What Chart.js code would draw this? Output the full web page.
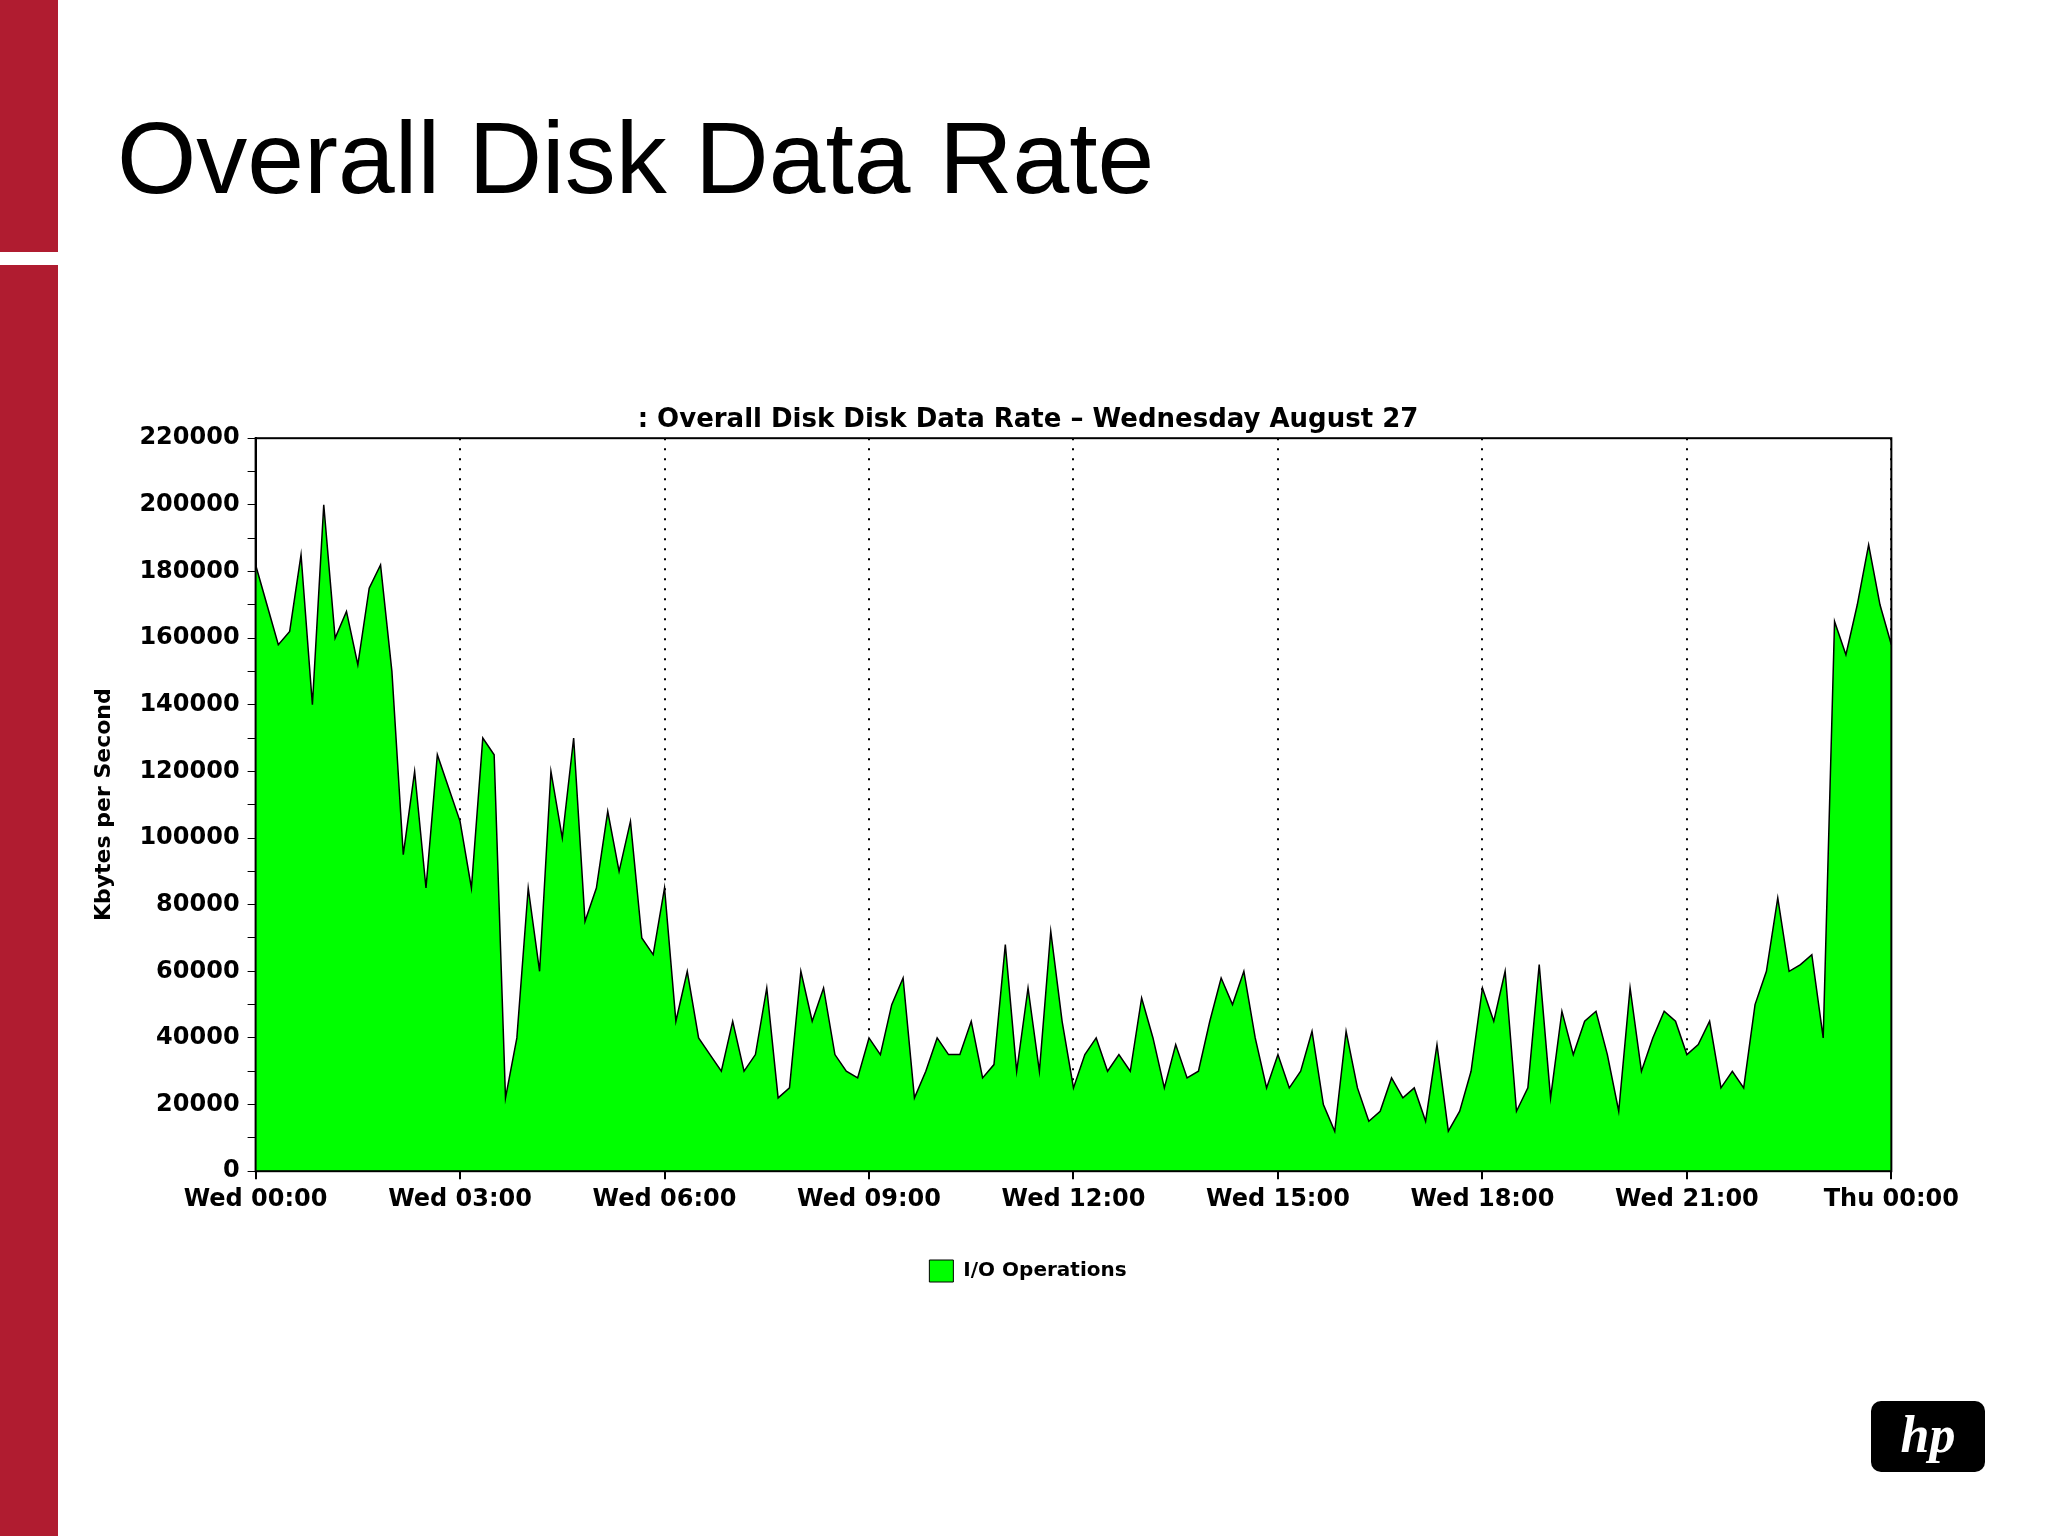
<!DOCTYPE html>
<html><head><meta charset="utf-8">
<script src="https://cdn.jsdelivr.net/npm/chart.js@4/dist/chart.umd.min.js"></script>
<style>
html,body{margin:0;padding:0;background:#fff;width:2048px;height:1536px;overflow:hidden;position:relative;font-family:"Liberation Sans",Arial,sans-serif}
#bar1{position:absolute;left:0;top:0;width:58px;height:252px;background:#B01C30}
#bar2{position:absolute;left:0;top:265px;width:58px;height:1271px;background:#B01C30}
#title{position:absolute;left:117px;top:100px;font-size:102px;color:#000;white-space:nowrap}
#wrap{position:absolute;left:91px;top:405px;width:1874px;height:887px}
#hp{position:absolute;left:1871px;top:1401px;width:114px;height:71px;background:#000;border-radius:10px;color:#fff;font:italic bold 52px "Liberation Serif",serif;text-align:center;line-height:68px}
</style></head><body>
<div id="bar1"></div><div id="bar2"></div>
<div id="title">Overall Disk Data Rate</div>
<div id="wrap"><canvas id="c"></canvas></div>
<div id="hp">hp</div>
<script>
// values in Kbytes/s, one every 10 minutes from Wed 00:00 to Thu 00:00
const ioOps = [
182000,170000,158000,162000,185000,140000,
200000,160000,168000,152000,175000,182000,
150000,95000,120000,85000,125000,115000,
105000,85000,130000,125000,22000,40000,
85000,60000,120000,100000,130000,75000,
85000,108000,90000,105000,70000,65000,
85000,45000,60000,40000,35000,30000,
45000,30000,35000,55000,22000,25000,
60000,45000,55000,35000,30000,28000,
40000,35000,50000,58000,22000,30000,
40000,35000,35000,45000,28000,32000,
68000,30000,55000,30000,72000,45000,
25000,35000,40000,30000,35000,30000,
52000,40000,25000,38000,28000,30000,
45000,58000,50000,60000,40000,25000,
35000,25000,30000,42000,20000,12000,
42000,25000,15000,18000,28000,22000,
25000,15000,38000,12000,18000,30000,
55000,45000,60000,18000,25000,62000,
22000,48000,35000,45000,48000,35000,
18000,55000,30000,40000,48000,45000,
35000,38000,45000,25000,30000,25000,
50000,60000,82000,60000,62000,65000,
40000,165000,155000,170000,188000,170000,
158000
];
const xTickLabels = {0:'Wed 00:00',3:'Wed 03:00',6:'Wed 06:00',9:'Wed 09:00',12:'Wed 12:00',15:'Wed 15:00',18:'Wed 18:00',21:'Wed 21:00',24:'Thu 00:00'};
const yTickLabels = [0,20000,40000,60000,80000,100000,120000,140000,160000,180000,200000,220000];
const seriesName = 'I/O Operations';
const chartTitle = ': Overall Disk Disk Data Rate \u2013 Wednesday August 27';

const pts = ioOps.map((v,i)=>({x:i/6,y:v}));
const tickFont = {family:'"DejaVu Sans"',size:24,weight:'bold'};
new Chart(document.getElementById('c'),{
  type:'line',
  data:{datasets:[{label:seriesName,data:pts,borderColor:'#000',borderWidth:1.5,backgroundColor:'#00FF00',fill:'origin',pointRadius:0,tension:0}]},
  options:{
    responsive:true,maintainAspectRatio:false,animation:false,
    layout:{padding:{right:0}},
    plugins:{
      title:{display:true,text:chartTitle,color:'#000',font:{family:'"DejaVu Sans"',size:26,weight:'bold'},padding:{top:0,bottom:2}},
      legend:{position:'bottom',labels:{color:'#000',font:{family:'"DejaVu Sans"',size:20,weight:'bold'},boxWidth:24,boxHeight:22,padding:40,generateLabels:(ch)=>[{text:seriesName,fillStyle:'#00FF00',strokeStyle:'#000',lineWidth:1}]}},
      tooltip:{enabled:false}
    },
    scales:{
      x:{type:'linear',min:0,max:24,
        ticks:{stepSize:3,autoSkip:false,maxRotation:0,padding:6,color:'#000',font:tickFont,callback:v=>xTickLabels[v]??''},
        grid:{color:'#000',lineWidth:2,tickLength:8,drawTicks:true},
        border:{color:'#000',width:2,dash:[2,8]}},
      y:{min:0,max:220000,
        ticks:{stepSize:10000,autoSkip:false,padding:8,color:'#000',font:tickFont,callback:v=>yTickLabels.includes(v)?String(v):''},
        grid:{drawOnChartArea:false,color:'#000',tickLength:8},
        border:{color:'#000',width:2},
        title:{display:true,text:'Kbytes per Second',color:'#000',padding:{top:0,bottom:14},font:{family:'"DejaVu Sans"',size:22,weight:'bold'}}}
    }
  },
  plugins:[{id:'frame',afterDraw(ch){const a=ch.chartArea,c=ch.ctx;c.save();c.strokeStyle='#000';c.lineWidth=2;c.strokeRect(a.left,a.top,a.right-a.left,a.bottom-a.top);c.restore();}}]
});
</script>
</body></html>
